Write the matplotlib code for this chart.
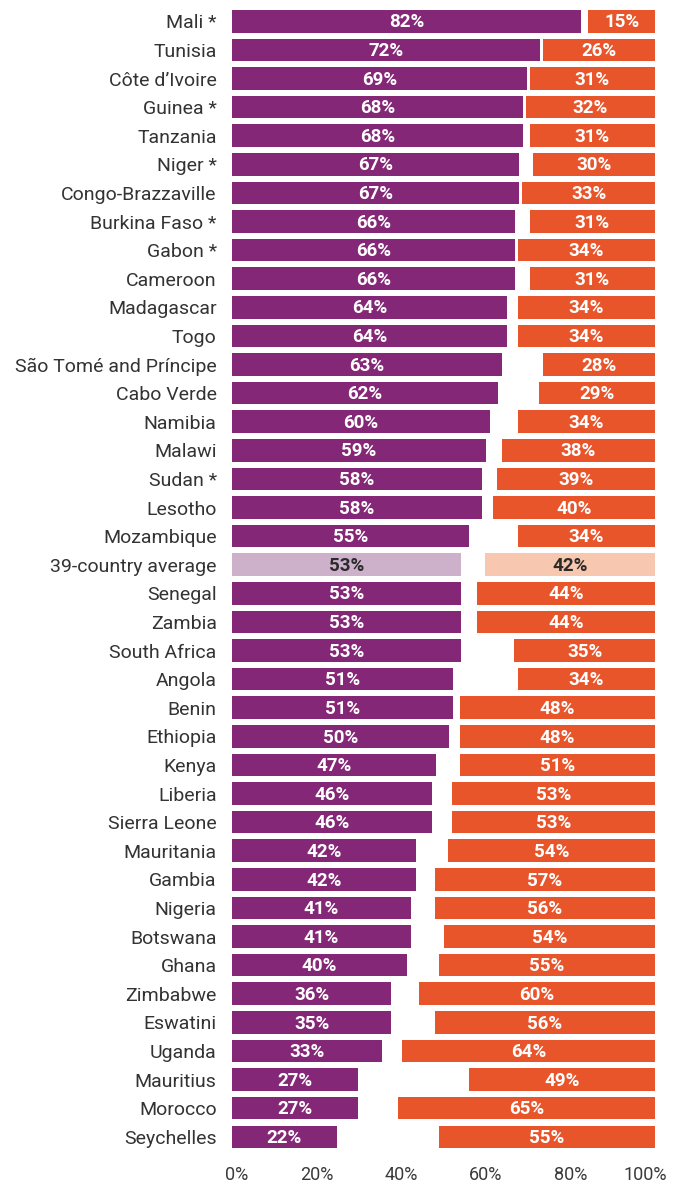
import matplotlib
matplotlib.use("Agg")
import matplotlib.pyplot as plt
from matplotlib.transforms import ScaledTranslation

countries = ["Mali *", "Tunisia", "Côte d’Ivoire", "Guinea *", "Tanzania", "Niger *",
             "Congo-Brazzaville", "Burkina Faso *", "Gabon *", "Cameroon", "Madagascar",
             "Togo", "São Tomé and Príncipe", "Cabo Verde", "Namibia", "Malawi", "Sudan *",
             "Lesotho", "Mozambique", "39-country average", "Senegal", "Zambia",
             "South Africa", "Angola", "Benin", "Ethiopia", "Kenya", "Liberia",
             "Sierra Leone", "Mauritania", "Gambia", "Nigeria", "Botswana", "Ghana",
             "Zimbabwe", "Eswatini", "Uganda", "Mauritius", "Morocco", "Seychelles"]
# printed labels
left_vals = [82, 72, 69, 68, 68, 67, 67, 66, 66, 66, 64, 64, 63, 62, 60, 59, 58, 58, 55,
             53, 53, 53, 53, 51, 51, 50, 47, 46, 46, 42, 42, 41, 41, 40, 36, 35, 33, 27, 27, 22]
right_vals = [15, 26, 31, 32, 31, 30, 33, 31, 34, 31, 34, 34, 28, 29, 34, 38, 39, 40, 34,
              42, 44, 44, 35, 34, 48, 48, 51, 53, 53, 54, 57, 56, 54, 55, 60, 56, 64, 49, 65, 55]
# bar lengths as drawn in the picture (estimated on the 0-100 axis)
left_bars = [82.4, 72.8, 69.7, 68.8, 68.8, 67.8, 67.8, 66.9, 66.9, 66.9, 65.0, 65.0, 63.8,
             62.9, 61.0, 60.0, 59.1, 59.1, 56.0, 54.1, 54.1, 54.1, 54.1, 52.2, 52.2, 51.3,
             48.2, 47.3, 47.3, 43.5, 43.5, 42.3, 42.3, 41.4, 37.6, 37.6, 35.5, 29.8, 29.8, 24.8]
right_bars = [15.8, 26.5, 29.6, 30.5, 29.6, 28.8, 31.4, 29.6, 32.4, 29.6, 32.4, 32.4, 26.5,
              27.4, 32.4, 36.2, 37.4, 38.3, 32.4, 40.2, 42.1, 42.1, 33.3, 32.4, 46.1, 46.1,
              46.1, 48.0, 48.0, 48.9, 52.0, 52.0, 49.9, 51.1, 55.8, 52.0, 59.8, 44.0, 60.8, 51.1]
tick_vals = [0, 20, 40, 60, 80, 100]
tick_labels = ["0%", "20%", "40%", "60%", "80%", "100%"]
avg_label = "39-country average"

PURPLE = "#852777"
ORANGE = "#e9552b"
PURPLE_L = "#cdb1cb"
ORANGE_L = "#f8c7af"

plt.rcParams['font.family'] = ['Roboto', 'DejaVu Sans']

fig = plt.figure(figsize=(6.83, 11.87), dpi=100)
top_px, bot_px = 7.0, 1151.1
ax = fig.add_axes([232/683, 1 - bot_px/1187, (655-232)/683, (bot_px-top_px)/1187])

n = len(countries)
ys = list(range(n))
h = 0.79
for i, c in enumerate(countries):
    lv, rv = left_vals[i], right_vals[i]
    lb, rb = left_bars[i], right_bars[i]
    is_avg = (c == avg_label)
    pc = PURPLE_L if is_avg else PURPLE
    oc = ORANGE_L if is_avg else ORANGE
    tc = "#2b2b2b" if is_avg else "white"
    ax.barh(i, lb, left=0, height=h, color=pc, linewidth=0)
    ax.barh(i, rb, left=100 - rb, height=h, color=oc, linewidth=0)
    ax.text(lb / 2, i + 0.04, f"{lv}%", ha="center", va="center", color=tc,
            fontsize=13.5, fontweight="bold")
    ax.text(100 - rb / 2, i + 0.04, f"{rv}%", ha="center", va="center", color=tc,
            fontsize=13.5, fontweight="bold")

ax.set_xlim(0, 100)
ax.set_ylim(n - 0.5, -0.5)
ax.set_yticks(ys)
ax.set_yticklabels(countries, fontsize=14, color="#333333")
ax.set_xticks(tick_vals)
ax.set_xticklabels(tick_labels, fontsize=13, color="#3a3a3a")
ax.tick_params(axis="y", length=0, pad=11)
ax.tick_params(axis="x", length=0, pad=11)
for s in ax.spines.values():
    s.set_visible(False)

xt = ax.get_xticklabels()
xt[0].set_transform(xt[0].get_transform() + ScaledTranslation(5/100, 0, fig.dpi_scale_trans))
xt[-1].set_transform(xt[-1].get_transform() + ScaledTranslation(-10/100, 0, fig.dpi_scale_trans))

fig.savefig("out.png", dpi=100, facecolor="white")
